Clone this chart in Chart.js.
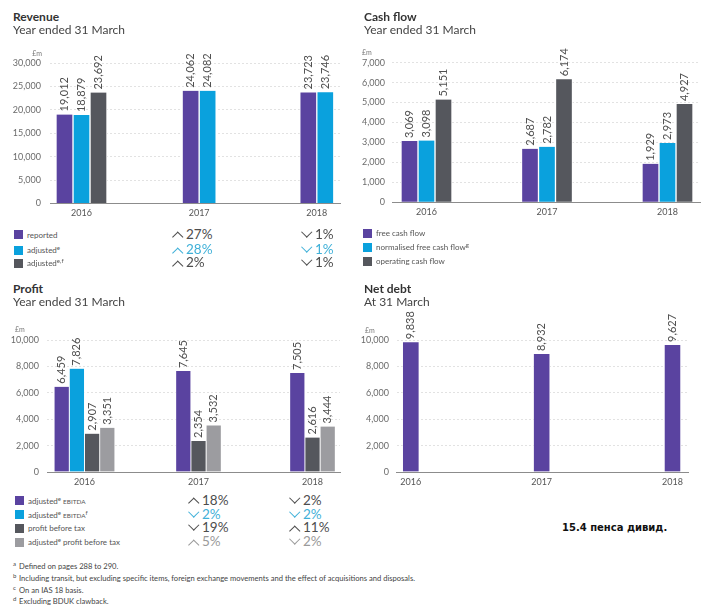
<!DOCTYPE html>
<html>
<head>
<meta charset="utf-8">
<script src="https://cdn.jsdelivr.net/npm/chart.js@4.4.1/dist/chart.umd.min.js"></script>
<style>
  body { margin: 0; width: 702px; height: 607px; position: relative; overflow: hidden; background: #fff; font-family: Lato, 'Open Sans', sans-serif; color: #333; }
  canvas { position: absolute; }
  .txt { position: absolute; line-height: 1; white-space: nowrap; }
  .title { font-size: 12px; font-weight: bold; color: #333; }
  .sub { font-size: 12px; color: #444; }
  .unit { font-size: 7px; color: #777; }
  .leg { font-size: 8px; color: #555; }
  .chg { font-size: 13.5px; }
  .foot { font-size: 7.6px; color: #444; }
  .fsup { font-size: 6px; color: #444; }
  .div { font-family: 'DejaVu Sans', sans-serif; font-size: 10px; font-weight: bold; color: #111; }
  sup { font-size: 75%; position: relative; top: -0.45em; vertical-align: baseline; line-height: 0; }
  .sc { font-size: 80%; }
  .sq { position: absolute; width: 9px; height: 9px; }
  .chev { position: absolute; width: 6.5px; height: 6.5px; border: 0 solid currentColor; transform: rotate(45deg); }
  .chev.up { border-top-width: 1.7px; border-left-width: 1.7px; }
  .chev.down { border-right-width: 1.7px; border-bottom-width: 1.7px; }
</style>
</head>
<body>
<canvas id="revenue"></canvas>
<canvas id="cashflow"></canvas>
<canvas id="profit"></canvas>
<canvas id="netdebt"></canvas>
<script>
// data
const years = [2016, 2017, 2018];

const revenueReported = [19012, 24062, 23723];
const revenueAdjusted = [18879, 24082, 23746];
const revenueAdjustedEF = [23692, null, null];
const revenueNames = ['reported', 'adjusted^e', 'adjusted^e,f'];
const revenueChange2017 = ['+27%', '+28%', '+2%'];
const revenueChange2018 = ['-1%', '-1%', '-1%'];

const freeCashFlow = [3069, 2687, 1929];
const normalisedFreeCashFlow = [3098, 2782, 2973];
const operatingCashFlow = [5151, 6174, 4927];
const cashNames = ['free cash flow', 'normalised free cash flow^g', 'operating cash flow'];

const adjustedEbitda = [6459, 7645, 7505];
const adjustedEbitdaF = [7826, null, null];
const profitBeforeTax = [2907, 2354, 2616];
const adjustedProfitBeforeTax = [3351, 3532, 3444];
const profitNames = ['adjusted^e EBITDA', 'adjusted^e EBITDA^f', 'profit before tax', 'adjusted^e profit before tax'];
const profitChange2017 = ['+18%', '-2%', '-19%', '+5%'];
const profitChange2018 = ['-2%', '-2%', '+11%', '-2%'];

const netDebt = [9838, 8932, 9627];

const footnotes = [
  ['a', 'Defined on pages 288 to 290.'],
  ['b', 'Including transit, but excluding specific items, foreign exchange movements and the effect of acquisitions and disposals.'],
  ['c', 'On an IAS 18 basis.'],
  ['d', 'Excluding BDUK clawback.']
];
const dividendNote = '15.4 пенса дивид.';

// styles
const purple = '#5a43a0', cyan = '#0aa1dd', dark = '#55575d', light = '#9c9ca0';
const chgDark = '#4d4d4d', chgCyan = '#3fb0d8', chgLight = '#9a9a9a';
const fmt = v => v.toLocaleString('en-US');

function putText(html, x, y, cls, right) {
  const d = document.createElement('div');
  d.className = 'txt ' + cls;
  d.innerHTML = html;
  d.style.left = x + 'px';
  d.style.top = y + 'px';
  d.style.transform = right ? 'translate(-100%,-50%)' : 'translateY(-50%)';
  document.body.appendChild(d);
  return d;
}

const markup = s => s.replace(/\^([\w,]+)/g, '<sup>$1</sup>').replace(/EBITDA/g, '<span class="sc">EBITDA</span>');

function legend(names, colors, x, rows) {
  names.forEach((n, i) => {
    const sq = document.createElement('div');
    sq.className = 'sq';
    sq.style.left = x + 'px';
    sq.style.top = (rows[i] - 4.5) + 'px';
    sq.style.background = colors[i];
    document.body.appendChild(sq);
    putText(markup(n), x + 13, rows[i], 'leg');
  });
}

function changes(list, x, rows, colors) {
  list.forEach((c, i) => {
    const up = c[0] === '+';
    const ch = document.createElement('div');
    ch.className = 'chev ' + (up ? 'up' : 'down');
    ch.style.color = colors[i];
    ch.style.left = (x + 1.8) + 'px';
    ch.style.top = (rows[i] - 4 + (up ? 2.8 : -2.8)) + 'px';
    document.body.appendChild(ch);
    putText(c.slice(1), x + 14, rows[i], 'chg').style.color = colors[i];
  });
}

const valueLabels = {
  id: 'valueLabels',
  afterDatasetsDraw(chart) {
    const ctx = chart.ctx;
    ctx.save();
    ctx.font = '11px Lato';
    ctx.fillStyle = '#505050';
    ctx.textAlign = 'left';
    ctx.textBaseline = 'middle';
    chart.data.datasets.forEach((ds, i) => {
      chart.getDatasetMeta(i).data.forEach((bar, j) => {
        const v = ds.data[j];
        if (v == null) return;
        ctx.save();
        ctx.translate(bar.x, bar.y - 3);
        ctx.rotate(-Math.PI / 2);
        ctx.fillText(fmt(v), 0, 0);
        ctx.restore();
      });
    });
    ctx.restore();
  }
};

function barChart(id, box, area, centers, yMax, yStep, yPad, series, colors, thick, gap) {
  const canvas = document.getElementById(id);
  canvas.width = box.w;
  canvas.height = box.h;
  canvas.style.left = box.x + 'px';
  canvas.style.top = box.y + 'px';
  const perYear = (centers[1] - centers[0]) / (years[years.length - 1] - years[0]);
  const xMin = years[0] - (centers[0] - area.l) / perYear;
  const xMax = xMin + (area.r - area.l) / perYear;
  return new Chart(canvas, {
    type: 'bar',
    data: {
      labels: years,
      datasets: series.map((d, i) => ({
        data: d,
        backgroundColor: colors[i],
        borderColor: '#ffffff',
        borderWidth: { left: gap / 2, right: gap / 2, top: 0, bottom: 0 },
        barThickness: thick,
        skipNull: true
      }))
    },
    options: {
      responsive: false,
      animation: false,
      layout: { padding: { top: area.t - box.y, right: box.x + box.w - area.r, left: 0, bottom: 0 } },
      plugins: { legend: { display: false }, tooltip: { enabled: false } },
      scales: {
        x: {
          type: 'linear', min: xMin, max: xMax, bounds: 'data', offset: false,
          grid: { display: false, drawTicks: false },
          border: { display: true, color: '#8c8c8c', width: 1 },
          afterBuildTicks: s => { s.ticks = years.map(v => ({ value: v })); },
          afterFit: s => { s.height = box.y + box.h - area.b; },
          ticks: { callback: v => String(v), font: { size: 9 }, color: '#555', padding: 4.5, autoSkip: false, maxRotation: 0 }
        },
        y: {
          min: 0, max: yMax,
          grid: { color: '#e2e2e2', lineWidth: 1, drawTicks: false },
          border: { display: false, dash: [2, 2] },
          afterFit: s => { s.width = area.l - box.x; },
          ticks: { stepSize: yStep, callback: v => fmt(v), font: { size: 9 }, color: '#6b6b6b', padding: yPad }
        }
      }
    },
    plugins: [valueLabels]
  });
}

function build() {
  Chart.defaults.font.family = 'Lato';

  // titles
  putText('Revenue', 13, 17, 'title');
  putText('Year ended 31 March', 13, 30, 'sub');
  putText('Cash flow', 364, 17, 'title');
  putText('Year ended 31 March', 364, 30, 'sub');
  putText('Profit', 13, 288.5, 'title');
  putText('Year ended 31 March', 13, 301.5, 'sub');
  putText('Net debt', 364, 289, 'title');
  putText('At 31 March', 364, 301.5, 'sub');

  putText('£m', 42, 52.7, 'unit', true);
  putText('£m', 362, 51.7, 'unit');
  putText('£m', 15, 329.3, 'unit');
  putText('£m', 365, 330, 'unit');

  barChart('revenue', { x: 0, y: 36, w: 350, h: 186 }, { l: 50, r: 340, t: 63, b: 203.5 }, [81.5, 316.8],
    30000, 5000, 9, [revenueReported, revenueAdjusted, revenueAdjustedEF], [purple, cyan, dark], 17, 2);
  barChart('cashflow', { x: 350, y: 36, w: 352, h: 186 }, { l: 392, r: 700, t: 62.7, b: 202.3 }, [426.5, 667.5],
    7000, 1000, 7, [freeCashFlow, normalisedFreeCashFlow, operatingCashFlow], [purple, cyan, dark], 17, 2);
  barChart('profit', { x: 0, y: 306, w: 350, h: 182 }, { l: 47, r: 340, t: 340, b: 472 }, [84.5, 312.5],
    10000, 2000, 8, [adjustedEbitda, adjustedEbitdaF, profitBeforeTax, adjustedProfitBeforeTax], [purple, cyan, dark, light], 15.2, 1.6);
  barChart('netdebt', { x: 350, y: 306, w: 352, h: 182 }, { l: 396.7, r: 688, t: 340, b: 472 }, [410.8, 672.5],
    10000, 2000, 7.7, [netDebt], [purple], 16, 1);

  // legends
  const revRows = [234.5, 250, 263];
  legend(revenueNames, [purple, cyan, dark], 14, revRows);
  changes(revenueChange2017, 172, revRows, [chgDark, chgCyan, chgDark]);
  changes(revenueChange2018, 301, revRows, [chgDark, chgCyan, chgDark]);

  legend(cashNames, [purple, cyan, dark], 363, [233, 247, 261]);

  const profRows = [500.5, 514.5, 528, 542];
  legend(profitNames, [purple, cyan, dark, light], 15, profRows);
  changes(profitChange2017, 188, profRows, [chgDark, chgCyan, chgDark, chgLight]);
  changes(profitChange2018, 289, profRows, [chgDark, chgCyan, chgDark, chgLight]);

  // footnotes
  const footRows = [567, 579, 591, 602];
  footnotes.forEach((f, i) => {
    putText(f[0], 13, footRows[i] - 3.5, 'fsup');
    putText(f[1], 19, footRows[i], 'foot');
  });

  putText(dividendNote, 562, 528, 'div');
}

Promise.all([document.fonts.load('11px Lato'), document.fonts.load('bold 12px Lato')])
  .catch(() => {})
  .then(build);
</script>
</body>
</html>
